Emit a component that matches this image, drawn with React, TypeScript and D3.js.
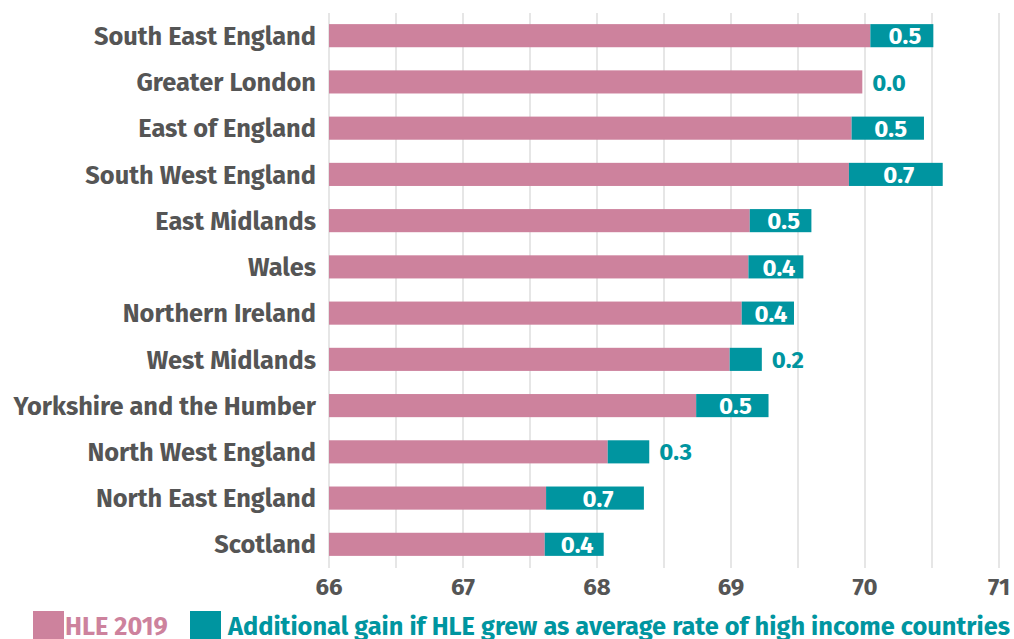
import * as d3 from "d3";
import { useEffect, useRef } from "react";

const regions = [
  "South East England",
  "Greater London",
  "East of England",
  "South West England",
  "East Midlands",
  "Wales",
  "Northern Ireland",
  "West Midlands",
  "Yorkshire and the Humber",
  "North West England",
  "North East England",
  "Scotland",
];
const hle2019 = [70.04, 69.98, 69.9, 69.88, 69.14, 69.13, 69.08, 68.99, 68.74, 68.08, 67.62, 67.61];
const gain = [0.47, 0.0, 0.54, 0.7, 0.46, 0.41, 0.39, 0.24, 0.54, 0.31, 0.73, 0.44];
const gainLabels = ["0.5", "0.0", "0.5", "0.7", "0.5", "0.4", "0.4", "0.2", "0.5", "0.3", "0.7", "0.4"];
const xTicks = [66, 67, 68, 69, 70, 71];
const gridTicks = [66, 66.5, 67, 67.5, 68, 68.5, 69, 69.5, 70, 70.5, 71];
const legendLabels = ["HLE 2019", "Additional gain if HLE grew as average rate of high income countries"];

const PINK = "#cd829d";
const TEAL = "#0095a0";
const GREY = "#555555";
const FONT = "'Fira Sans', Lato, 'Open Sans', sans-serif";

function App() {
  const svgRef = useRef<SVGSVGElement>(null);

  useEffect(() => {
    const svg = d3.select(svgRef.current);
    svg.selectAll("*").remove();

    const x = d3.scaleLinear().domain([66, 71]).range([329, 999]);
    const y = d3.scaleBand().domain(regions).range([1, 579]).padding(0.5);

    // grid
    svg.append("g")
      .selectAll("line")
      .data(gridTicks)
      .join("line")
      .attr("x1", (d) => x(d))
      .attr("x2", (d) => x(d))
      .attr("y1", 13)
      .attr("y2", 568)
      .attr("stroke", "#dedede")
      .attr("stroke-width", 1.5);

    const rows = svg.append("g")
      .selectAll("g")
      .data(regions)
      .join("g");

    rows.append("rect")
      .attr("x", x(66))
      .attr("y", (d) => y(d)!)
      .attr("width", (d, i) => x(hle2019[i]) - x(66))
      .attr("height", y.bandwidth())
      .attr("fill", PINK);

    rows.append("rect")
      .attr("x", (d, i) => x(hle2019[i]))
      .attr("y", (d) => y(d)!)
      .attr("width", (d, i) => x(hle2019[i] + gain[i]) - x(hle2019[i]))
      .attr("height", y.bandwidth())
      .attr("fill", TEAL);

    const inside = (i: number) => x(hle2019[i] + gain[i]) - x(hle2019[i]) > 48;

    rows.append("text")
      .attr("x", (d, i) =>
        inside(i)
          ? (x(hle2019[i]) + x(hle2019[i] + gain[i])) / 2 + 3
          : x(hle2019[i] + gain[i]) + 10
      )
      .attr("y", (d) => y(d)! + y.bandwidth() / 2)
      .attr("dy", "0.36em")
      .attr("text-anchor", (d, i) => (inside(i) ? "middle" : "start"))
      .attr("fill", (d, i) => (inside(i) ? "#ffffff" : TEAL))
      .attr("font-family", FONT)
      .attr("font-weight", 700)
      .attr("font-size", 24)
      .text((d, i) => gainLabels[i]);

    // category labels
    rows.append("text")
      .attr("x", 316)
      .attr("y", (d) => y(d)! + y.bandwidth() / 2)
      .attr("dy", "0.36em")
      .attr("text-anchor", "end")
      .attr("fill", GREY)
      .attr("font-family", FONT)
      .attr("font-weight", 700)
      .attr("font-size", 25.4)
      .text((d) => d);

    // x tick labels
    svg.append("g")
      .selectAll("text")
      .data(xTicks)
      .join("text")
      .attr("x", (d) => x(d))
      .attr("y", 595)
      .attr("text-anchor", "middle")
      .attr("fill", GREY)
      .attr("font-family", FONT)
      .attr("font-weight", 700)
      .attr("font-size", 24)
      .text((d) => d);

    // legend
    const legend = svg.append("g");
    legend.append("rect").attr("x", 33).attr("y", 611).attr("width", 31).attr("height", 30).attr("fill", PINK);
    legend.append("text")
      .attr("x", 65).attr("y", 635)
      .attr("fill", PINK)
      .attr("font-family", FONT).attr("font-weight", 700).attr("font-size", 25.4)
      .text(legendLabels[0]);
    legend.append("rect").attr("x", 190).attr("y", 611).attr("width", 31).attr("height", 30).attr("fill", TEAL);
    legend.append("text")
      .attr("x", 228).attr("y", 635)
      .attr("fill", TEAL)
      .attr("font-family", FONT).attr("font-weight", 700).attr("font-size", 25.4)
      .text(legendLabels[1]);
  }, []);

  return (
    <svg
      ref={svgRef}
      width={1014}
      height={639}
      style={{ position: "absolute", left: 0, top: 0, background: "#fff" }}
    />
  );
}

export default App;
